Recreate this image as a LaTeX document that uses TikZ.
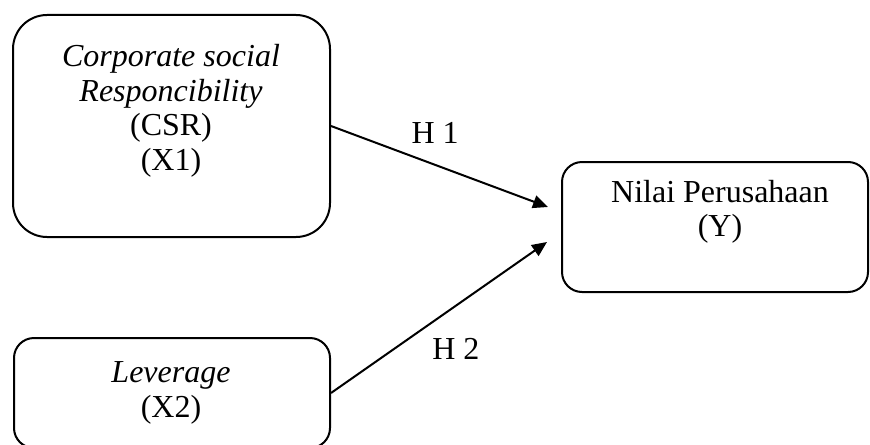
\documentclass[tikz,border=0pt]{standalone}
\usepackage{fontspec}
\setmainfont{Liberation Serif}
\usetikzlibrary{arrows.meta,calc}
\begin{document}
\begin{tikzpicture}[x=0.5pt,y=-0.5pt,line width=1pt,
  varbox/.style={draw,rectangle,inner sep=0pt},
  vartext/.style={align=center,inner sep=0pt,font=\fontsize{16}{17.3}\selectfont},
  hyp/.style={-{Triangle[length=7.5pt,width=6.5pt]}},
  hlabel/.style={inner sep=0pt,font=\fontsize{16}{17.3}\selectfont}]
\useasboundingbox(0,0)rectangle(870,444);
\node[varbox,rounded corners=17pt,minimum width=158.5pt,minimum height=111pt](csr)at(171.5,126){};
\node[varbox,rounded corners=10pt,minimum width=158pt,minimum height=55pt](lev)at(172,393){};
\node[varbox,rounded corners=10pt,minimum width=153pt,minimum height=65pt](nilai)at(715,227){};
\node[vartext](csrtext)at(171,111){\textit{Corporate social}\\\textit{Responcibility}\\(CSR)\\(X1)};
\node[vartext](levtext)at(171,393){\textit{Leverage}\\(X2)};
\node[vartext](nilaitext)at(720,212){Nilai Perusahaan\\(Y)};
\draw[hyp](csr.east)--($(nilai.west)+(-13,-20)$)node[hlabel,pos=0.48,above=10pt]{H 1};
\draw[hyp](lev.east)--($(nilai.west)+(-14,15)$)node[hlabel,pos=0.578,below=16pt]{H 2};
\end{tikzpicture}
\end{document}
